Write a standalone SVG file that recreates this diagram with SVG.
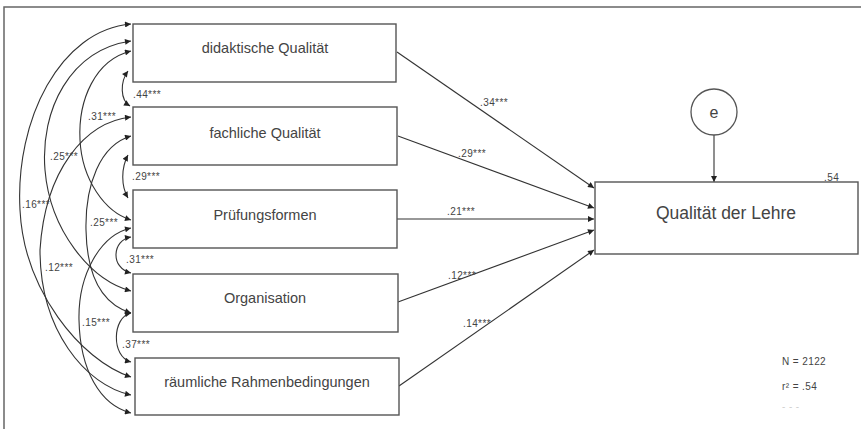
<svg xmlns="http://www.w3.org/2000/svg" width="861" height="429" viewBox="0 0 861 429">
<defs>
<marker id="ah" viewBox="0 0 10 10" refX="10" refY="5" markerWidth="7" markerHeight="6" markerUnits="userSpaceOnUse" orient="auto-start-reverse">
<path d="M0,0 L10,5 L0,10 Z" fill="#222"/>
</marker>
<style>
.box{fill:#fff;stroke:#555;stroke-width:1.4}
.bt{font-family:"Liberation Sans",Arial,sans-serif;font-size:14.5px;fill:#444;text-anchor:middle}
.lb{font-family:"Liberation Sans",Arial,sans-serif;font-size:10px;fill:#444;letter-spacing:0.4px}
.c{fill:none;stroke:#333;stroke-width:1.1;marker-start:url(#ah);marker-end:url(#ah)}
.p{fill:none;stroke:#333;stroke-width:1.1;marker-end:url(#ah)}
</style>
</defs>
<rect width="861" height="429" fill="#fff"/>
<path d="M4,429 L4,7 L861,7" fill="none" stroke="#666" stroke-width="1.5"/>

<g id="connectors">
<path class="c" d="M130,106 C120,100 120,82 128,71"/>
<path class="c" d="M128,155 C121,168 121,186 128,198"/>
<path class="c" d="M131,237 C112,240 110,268 131,273"/>
<path class="c" d="M131,313 C112,317 111,357 131,362"/>
<path class="c" d="M131,24 C60,30 15,120 20,210 C24,290 80,360 131,377"/>
<path class="c" d="M131,41 C70,50 40,110 45,170 C50,230 90,280 131,291"/>
<path class="c" d="M131,51 C95,60 78,100 80,140 C82,180 105,212 131,220"/>
<path class="c" d="M131,117 C85,122 45,170 40,250 C40,330 85,385 131,395"/>
<path class="c" d="M131,136 C100,145 85,185 86,230 C87,280 105,305 131,313"/>
<path class="c" d="M131,228 C100,235 78,275 79,320 C80,370 100,405 131,413"/>
<path class="p" d="M397,52 L594,188"/>
<path class="p" d="M398,136 L594,208"/>
<path class="p" d="M397,219 L594,219"/>
<path class="p" d="M398,302 L594,230"/>
<path class="p" d="M399,386 L594,250"/>
<path class="p" d="M714,135 L714,182"/>
</g>

<g id="labels">
<text class="lb" x="133" y="98">.44***</text>
<text class="lb" x="88" y="120">.31***</text>
<text class="lb" x="50" y="160">.25***</text>
<text class="lb" x="132" y="180">.29***</text>
<text class="lb" x="22" y="208">.16***</text>
<text class="lb" x="90" y="226">.25***</text>
<text class="lb" x="126" y="263">.31***</text>
<text class="lb" x="45" y="271">.12***</text>
<text class="lb" x="82" y="326">.15***</text>
<text class="lb" x="122" y="348">.37***</text>
<text class="lb" x="480" y="106">.34***</text>
<text class="lb" x="458" y="157">.29***</text>
<text class="lb" x="447" y="215">.21***</text>
<text class="lb" x="448" y="279">.12***</text>
<text class="lb" x="463" y="327">.14***</text>
</g>

<g id="n1"><rect class="box" x="133" y="24" width="263" height="58"/><text class="bt" x="265" y="53">didaktische Qualität</text></g>
<g id="n2"><rect class="box" x="133" y="107" width="264" height="58"/><text class="bt" x="265" y="138">fachliche Qualität</text></g>
<g id="n3"><rect class="box" x="133" y="190" width="264" height="58"/><text class="bt" x="265" y="220">Prüfungsformen</text></g>
<g id="n4"><rect class="box" x="133" y="274" width="265" height="58"/><text class="bt" x="265" y="303">Organisation</text></g>
<g id="n5"><rect class="box" x="135" y="358" width="264" height="57"/><text class="bt" x="267" y="387">räumliche Rahmenbedingungen</text></g>

<g id="target"><rect class="box" x="595" y="182" width="263" height="72"/><text class="bt" x="726" y="219" style="font-size:17.5px">Qualität der Lehre</text>
<text class="lb" x="824" y="181">.54</text></g>

<g id="e"><circle cx="714" cy="112" r="23" fill="#fff" stroke="#555" stroke-width="1.3"/><text class="bt" x="714" y="118" style="font-size:16px">e</text></g>

<g id="stats">
<text class="lb" x="782" y="365">N = 2122</text>
<text class="lb" x="782" y="390">r² = .54</text>
<text class="lb" x="782" y="410" style="fill:#d0d0d0">- - -</text>
</g>
</svg>
